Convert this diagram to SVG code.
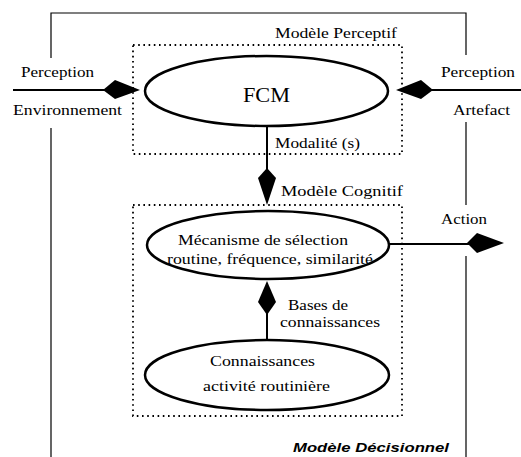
<svg xmlns="http://www.w3.org/2000/svg" width="521" height="457" viewBox="0 0 521 457">
<style>
.t{font-family:"Liberation Serif","DejaVu Serif","Times New Roman",serif;font-size:15px;fill:#000}
.el{fill:#fff;stroke:#000;stroke-width:2.5}
.ln{stroke:#000;stroke-width:2;fill:none}
.box{stroke:#000;stroke-width:1.2;fill:none}
.dot{stroke:#000;stroke-width:1.8;fill:none;stroke-dasharray:1.6 3.6}
.dm{fill:#000;stroke:none}
</style>
<rect width="521" height="457" fill="#fff"/>
<g id="decisionnel">
<path class="box" d="M51,457 V128 M51,58 V13 H466 V55 M466,122 V205 M466,256 V457"/>
<text x="293" y="452" font-family="Liberation Sans, Arial, sans-serif" font-size="13" font-weight="bold" font-style="italic" textLength="156" lengthAdjust="spacingAndGlyphs">Modèle Décisionnel</text>
</g>
<g id="perceptif">
<rect class="dot" x="133" y="45" width="269" height="109"/>
<text class="t" x="275" y="38" textLength="122" lengthAdjust="spacingAndGlyphs">Modèle Perceptif</text>
</g>
<g id="cognitif">
<rect class="dot" x="133" y="205" width="269" height="211"/>
<text class="t" x="281" y="196" textLength="122" lengthAdjust="spacingAndGlyphs">Modèle  Cognitif</text>
</g>
<g id="connectors">
<path class="ln" d="M13,90 H110"/>
<polygon class="dm" points="103,90 115,80 140,90 115,99"/>
<path class="ln" d="M425,90 H521"/>
<polygon class="dm" points="396,90 421,80 433,90 421,99"/>
<path class="ln" d="M267,127 V172"/>
<polygon class="dm" points="267,168 258,178 267,205 276,178"/>
<path class="ln" d="M389,244 H470"/>
<polygon class="dm" points="467,243 477,233 504,243 477,253"/>
<path class="ln" d="M267,310 V341"/>
<polygon class="dm" points="267,281 258,302 267,315 276,302"/>
</g>
<g id="fcm">
<ellipse class="el" cx="266.5" cy="91" rx="121.5" ry="35"/>
<text class="t" x="243" y="102" style="font-size:21px" textLength="47" lengthAdjust="spacingAndGlyphs">FCM</text>
</g>
<g id="mecanisme">
<ellipse class="el" cx="268" cy="245" rx="121" ry="34"/>
<text class="t" x="178" y="245" textLength="170" lengthAdjust="spacingAndGlyphs">Mécanisme de sélection</text>
<text class="t" x="167" y="264" textLength="206" lengthAdjust="spacingAndGlyphs">routine, fréquence, similarité</text>
</g>
<g id="connaissances">
<ellipse class="el" cx="267" cy="375" rx="122" ry="35"/>
<text class="t" x="210" y="366" textLength="105" lengthAdjust="spacingAndGlyphs">Connaissances</text>
<text class="t" x="203" y="391" textLength="127" lengthAdjust="spacingAndGlyphs">activité routinière</text>
</g>
<g id="labels">
<text class="t" x="21" y="77" textLength="73" lengthAdjust="spacingAndGlyphs">Perception</text>
<text class="t" x="13" y="115" textLength="109" lengthAdjust="spacingAndGlyphs">Environnement</text>
<text class="t" x="441" y="77" textLength="74" lengthAdjust="spacingAndGlyphs">Perception</text>
<text class="t" x="453" y="115" textLength="57" lengthAdjust="spacingAndGlyphs">Artefact</text>
<text class="t" x="275" y="148" textLength="85" lengthAdjust="spacingAndGlyphs">Modalité (s)</text>
<text class="t" x="441" y="224" textLength="46" lengthAdjust="spacingAndGlyphs">Action</text>
<text class="t" x="288" y="310" textLength="60" lengthAdjust="spacingAndGlyphs">Bases de</text>
<text class="t" x="280" y="327" textLength="100" lengthAdjust="spacingAndGlyphs">connaissances</text>
</g>
</svg>
